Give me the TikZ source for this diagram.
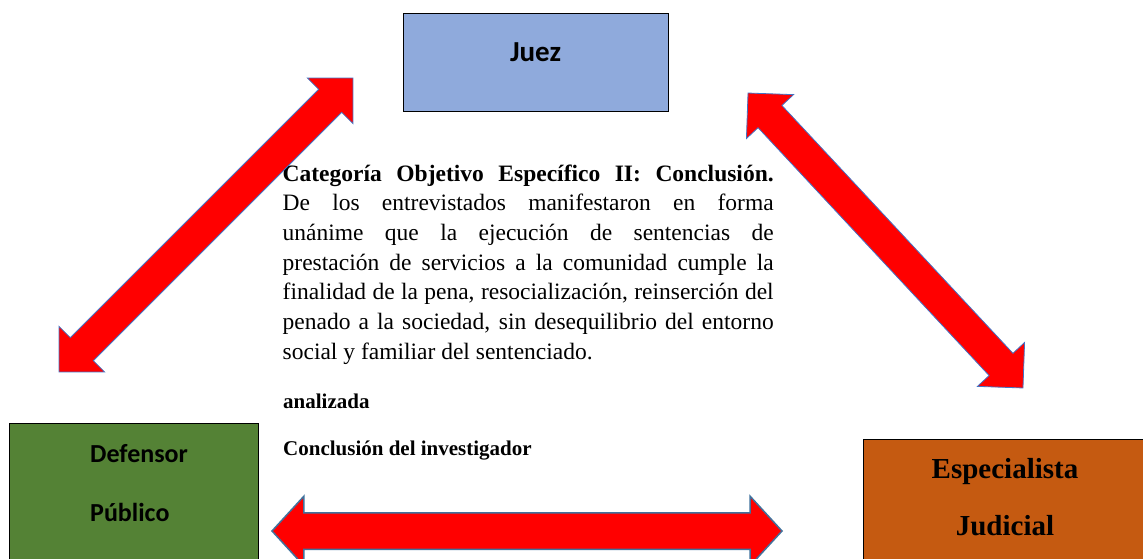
\documentclass[tikz,border=0pt]{standalone}
\usepackage{fontspec}
\setmainfont{Liberation Serif}
\newfontfamily\calibri{Carlito}
\usetikzlibrary{calc,shapes.arrows}

\definecolor{juezblue}{HTML}{8FAADC}
\definecolor{defgreen}{HTML}{548235}
\definecolor{espbrown}{HTML}{C55A11}
\definecolor{arrowedge}{HTML}{4472C4}
\definecolor{arrowedgeb}{HTML}{41719C}

\tikzset{
  rolebox/.style={draw=black, line width=0.8pt, inner sep=0pt},
  calfont/.style={font=\calibri\bfseries\fontsize{26}{59}\selectfont},
  timesfont/.style={font=\bfseries\fontsize{29}{57}\selectfont},
  dblarrow/.style={double arrow, fill=red, draw=arrowedge, line width=0.8pt,
    inner xsep=0pt, inner ysep=15.9pt, double arrow head extend=15.9pt,
    double arrow tip angle=90}
}

% block arrow between two named points
\newcommand\linkarrow[4][]{%
  \path let \p1=($(#3)-(#2)$), \n1={atan2(\y1,\x1)}, \n2={veclen(\x1,\y1)} in
    node[dblarrow, minimum height=\n2, rotate=\n1, #1] (#4) at ($(#2)!0.5!(#3)$) {};
}

\begin{document}
\begin{tikzpicture}[x=1pt,y=-1pt]
    \clip (0,0) rectangle (1143,559);

    %%% Boxes %%%

    \node[rolebox, fill=juezblue, minimum width=265pt, minimum height=98pt,
        font=\calibri\bfseries\fontsize{29}{30}\selectfont, text height=20pt, text depth=20pt]
        (juez) at (535.5,62) {Juez};

    \node[rolebox, fill=defgreen, minimum width=249pt, minimum height=180pt,
        anchor=north west] (defensor) at (9,423) {};
    \node[calfont, text width=200pt, align=left, anchor=base west, inner sep=0pt]
        (defensortxt) at ($(defensor.north west)+(81,39)$) {Defensor\\Público};

    \node[rolebox, fill=espbrown, minimum width=290pt, minimum height=180pt,
        anchor=north west] (especialista) at (863,439) {};
    \node[timesfont, text width=280pt, align=center, anchor=base, inner sep=0pt]
        (especialistatxt) at (1005,478) {Especialista\\Judicial};

    %%% Text %%%

    \node[text width=491pt, align=justify, anchor=base west, inner sep=0pt,
        font=\fontsize{23.5}{29.7}\selectfont] (concl) at (282.5,181)
    {\textbf{Categoría Objetivo Específico II: Conclusión.}\linebreak
     De los entrevistados manifestaron en forma\linebreak
     unánime que la ejecución de sentencias de\linebreak
     prestación de servicios a la comunidad cumple la\linebreak
     finalidad de la pena, resocialización, reinserción del\linebreak
     penado a la sociedad, sin desequilibrio del entorno\linebreak
     social y familiar del sentenciado.};

    \node[anchor=base west, inner sep=0pt, font=\bfseries\fontsize{21}{25}\selectfont]
        (analizada) at (283,408) {analizada};
    \node[anchor=base west, inner sep=0pt, font=\bfseries\fontsize{21}{25}\selectfont]
        (investigador) at (283,455) {Conclusión del investigador};

    %%% Arrows %%%

    \coordinate (juezW) at (353,78);
    \coordinate (defN) at (59,372);
    \coordinate (juezE) at (748,93);
    \coordinate (espN) at (1023,388);
    \coordinate (defE) at (272,531);
    \coordinate (espW) at (782,531);

    \linkarrow{defN}{juezW}{arrowL}
    \linkarrow{juezE}{espN}{arrowR}
    \linkarrow[draw=arrowedgeb, line width=1.5pt, inner ysep=17.5pt,
        double arrow head extend=16.5pt, double arrow tip angle=95]{defE}{espW}{arrowB}

\end{tikzpicture}
\end{document}
